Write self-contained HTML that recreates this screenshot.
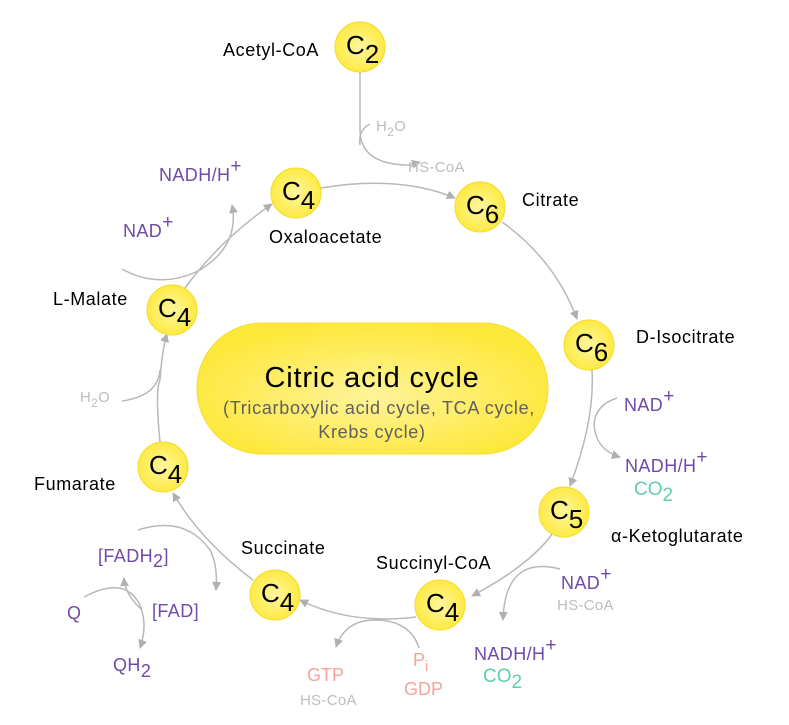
<!DOCTYPE html>
<html><head><meta charset="utf-8"><style>
html,body{margin:0;padding:0;background:#fff;}
svg{display:block;font-family:"Liberation Sans","DejaVu Sans",sans-serif;}
.lb{font-size:18px;fill:#000;letter-spacing:0.6px;}
.p{fill:#6f4aa8;font-size:18px;letter-spacing:0.4px;}
.g{fill:#bdbdbd;font-size:15px;letter-spacing:0.3px;}
.gr{fill:#5fcfa5;font-size:19px;}
.s{fill:#f3a39c;font-size:18px;}
.c{fill:none;stroke:#b8b8b8;stroke-width:1.5;}
.ct{font-size:26px;fill:#000;}
</style></head><body>
<svg width="789" height="725" viewBox="0 0 789 725" xmlns="http://www.w3.org/2000/svg">
<defs>
<marker id="a" viewBox="0 0 10 10" refX="9" refY="5" markerWidth="9" markerHeight="9" markerUnits="userSpaceOnUse" orient="auto"><path d="M0,0 L10,5 L0,10 z" fill="#b0b0b0"/></marker>
<radialGradient id="yg" cx="50%" cy="50%" r="55%"><stop offset="0" stop-color="#fff6a0"/><stop offset="1" stop-color="#fde93a"/></radialGradient>
<radialGradient id="pg" cx="50%" cy="55%" r="55%"><stop offset="0" stop-color="#fff39a"/><stop offset="1" stop-color="#fde83a"/></radialGradient>
</defs>

<rect x="197" y="323" width="351" height="131" rx="65" fill="url(#pg)" stroke="#f5dc30" stroke-width="1"/>
<text x="372" y="387" text-anchor="middle" font-size="29" fill="#000" letter-spacing="0.8">Citric acid cycle</text>
<text x="379" y="414" text-anchor="middle" font-size="18" fill="#5f5f5f" letter-spacing="0.7">(Tricarboxylic acid cycle, TCA cycle,</text>
<text x="372" y="438" text-anchor="middle" font-size="18" fill="#5f5f5f" letter-spacing="0.7">Krebs cycle)</text>

<path class="c" d="M321,188 Q400,175 455,198" marker-end="url(#a)"/>
<path class="c" d="M360,72 L360,130 Q360,165 410,165 L420,162" marker-end="url(#a)"/>
<path class="c" d="M370,124 Q358,130 360,145"/>
<path class="c" d="M502,222 Q555,260 577,319" marker-end="url(#a)"/>
<path class="c" d="M592,370 Q595,420 570,486" marker-end="url(#a)"/>
<path class="c" d="M553,533 Q530,565 472,596" marker-end="url(#a)"/>
<path class="c" d="M416,617 Q350,625 300,600" marker-end="url(#a)"/>
<path class="c" d="M253,580 Q200,540 173,493" marker-end="url(#a)"/>
<path class="c" d="M160,442 Q155,390 160,380 Q162,350 167,334" marker-end="url(#a)"/>
<path class="c" d="M185,288 Q220,240 272,204" marker-end="url(#a)"/>

<path class="c" d="M122,269 Q160,290 200,270 Q240,245 232,205" marker-end="url(#a)"/>
<path class="c" d="M122,401 Q158,396 160,370"/>
<path class="c" d="M617,398 Q595,405 594,425 Q596,450 620,457" marker-end="url(#a)"/>
<path class="c" d="M560,569 Q505,555 503,620" marker-end="url(#a)"/>
<path class="c" d="M419,648 Q410,620 375,620 Q345,620 336,647" marker-end="url(#a)"/>
<path class="c" d="M138,530 Q185,515 210,550 Q218,565 216,590" marker-end="url(#a)"/>
<path class="c" d="M142,610 Q125,595 124,578" marker-end="url(#a)"/>
<path class="c" d="M84,597 Q125,575 140,605 Q148,625 140,648" marker-end="url(#a)"/>

<g stroke="#f6d925" stroke-width="1" fill="url(#yg)">
<circle cx="360" cy="47" r="25"/>
<circle cx="296" cy="193" r="25"/>
<circle cx="480" cy="207" r="25"/>
<circle cx="589" cy="345" r="25"/>
<circle cx="564" cy="512" r="25"/>
<circle cx="440" cy="605" r="25"/>
<circle cx="275" cy="595" r="25"/>
<circle cx="163" cy="467" r="25"/>
<circle cx="172" cy="310" r="25"/>
</g>
<g class="ct">
<text x="346" y="54">C<tspan dy="9">2</tspan></text>
<text x="282" y="200">C<tspan dy="9">4</tspan></text>
<text x="466" y="214">C<tspan dy="9">6</tspan></text>
<text x="575" y="352">C<tspan dy="9">6</tspan></text>
<text x="550" y="519">C<tspan dy="9">5</tspan></text>
<text x="426" y="612">C<tspan dy="9">4</tspan></text>
<text x="261" y="602">C<tspan dy="9">4</tspan></text>
<text x="149" y="474">C<tspan dy="9">4</tspan></text>
<text x="158" y="317">C<tspan dy="9">4</tspan></text>
</g>

<text class="lb" x="223" y="56">Acetyl-CoA</text>
<text class="lb" x="522" y="206">Citrate</text>
<text class="lb" x="269" y="243">Oxaloacetate</text>
<text class="lb" x="636" y="343">D-Isocitrate</text>
<text class="lb" x="611" y="542">α-Ketoglutarate</text>
<text class="lb" x="376" y="569">Succinyl-CoA</text>
<text class="lb" x="241" y="554">Succinate</text>
<text class="lb" x="34" y="490">Fumarate</text>
<text class="lb" x="53" y="305">L-Malate</text>

<text class="g" x="376" y="131">H<tspan font-size="12" dy="5">2</tspan><tspan dy="-5">O</tspan></text>
<text class="g" x="408" y="172">HS-CoA</text>
<text class="g" x="80" y="402">H<tspan font-size="12" dy="5">2</tspan><tspan dy="-5">O</tspan></text>

<text class="p" x="159" y="181">NADH/H<tspan font-size="19" dy="-9">+</tspan></text>
<text class="p" x="123" y="237">NAD<tspan font-size="19" dy="-9">+</tspan></text>
<text class="p" x="624" y="411">NAD<tspan font-size="19" dy="-9">+</tspan></text>
<text class="p" x="625" y="472">NADH/H<tspan font-size="19" dy="-9">+</tspan></text>
<text class="gr" x="634" y="495">CO<tspan dy="6">2</tspan></text>
<text class="p" x="561" y="589">NAD<tspan font-size="19" dy="-9">+</tspan></text>
<text class="g" x="557" y="610">HS-CoA</text>
<text class="p" x="474" y="660">NADH/H<tspan font-size="19" dy="-9">+</tspan></text>
<text class="gr" x="483" y="682">CO<tspan dy="6">2</tspan></text>
<text class="s" x="307" y="681">GTP</text>
<text class="g" x="300" y="705">HS-CoA</text>
<text class="s" x="413" y="666">P<tspan font-size="15" dy="5">i</tspan></text>
<text class="s" x="404" y="695">GDP</text>
<text class="p" x="98" y="562">[FADH<tspan dy="5">2</tspan><tspan dy="-5">]</tspan></text>
<text class="p" x="152" y="617">[FAD]</text>
<text class="p" x="67" y="619">Q</text>
<text class="p" x="113" y="671">QH<tspan dy="6">2</tspan></text>
</svg>
</body></html>
